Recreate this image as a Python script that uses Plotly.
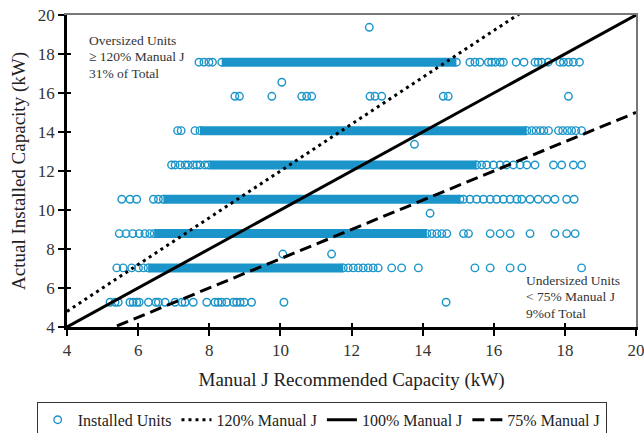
import plotly.graph_objects as go

# ---------------- data ----------------
# discrete installed-capacity levels (kW)
levels = [5.27, 7.03, 8.79, 10.55, 12.31, 14.07, 15.83, 17.58]

# dense (nearly continuous) stretches of points per level: [start, end] in kW (Manual J)
dense_ranges = {
    7.03: [6.28, 11.77],
    8.79: [6.45, 14.12],
    10.55: [6.71, 15.05],
    12.31: [8.00, 15.52],
    14.07: [7.74, 16.93],
    17.58: [8.35, 14.95],
}

# individually visible points per level (x = Manual J kW)
x_527 = [5.21, 5.35, 5.44, 5.77, 5.86, 5.96, 6.03, 6.29, 6.50, 6.57, 6.76, 7.04, 7.23, 7.32,
         7.55, 7.93, 8.16, 8.25, 8.35, 8.49, 8.68, 8.77, 8.87, 8.98, 9.19, 10.10, 14.66]
x_703 = [5.40, 5.58, 5.82, 6.01, 6.15, 6.28, 11.77, 11.91, 12.05, 12.19, 12.33, 12.47, 12.61,
         12.75, 13.13, 13.41, 13.88, 15.47, 15.90, 16.46, 16.79, 18.47]
x_879 = [5.47, 5.66, 5.85, 6.03, 6.19, 6.33, 6.45, 14.12, 14.26, 14.40, 14.54, 14.68, 15.15,
         15.29, 15.90, 16.18, 16.46, 17.02, 17.72, 18.05, 18.29]
x_1055 = [5.54, 5.77, 5.96, 6.43, 6.57, 6.71, 15.05, 15.15, 15.33, 15.52, 15.71, 15.90, 16.08,
          16.27, 16.46, 16.65, 16.79, 17.02, 17.25, 17.49, 17.72, 18.05, 18.26]
x_1231 = [6.94, 7.04, 7.18, 7.32, 7.41, 7.55, 7.65, 7.74, 7.88, 7.97, 15.52, 15.66, 15.80,
          15.99, 16.18, 16.36, 16.55, 16.74, 16.93, 17.16, 17.68, 17.91, 18.24, 18.47]
x_1407 = [7.11, 7.21, 7.60, 7.74, 16.93, 17.07, 17.19, 17.31, 17.41, 17.54, 17.82, 17.94,
          18.07, 18.19, 18.31, 18.47]
x_1583 = [8.72, 8.85, 9.76, 10.60, 10.74, 10.88, 12.52, 12.66, 12.85, 14.58, 14.72, 18.10]
x_1758 = [7.71, 7.85, 7.99, 8.09, 8.35, 14.95, 15.33, 15.47, 15.61, 15.85, 15.94, 16.04,
          16.18, 16.27, 16.63, 16.85, 17.16, 17.25, 17.35, 17.53, 17.86, 17.96, 18.10, 18.24,
          18.41]
sparse_x = {5.27: x_527, 7.03: x_703, 8.79: x_879, 10.55: x_1055,
            12.31: x_1231, 14.07: x_1407, 15.83: x_1583, 17.58: x_1758}

# off-level outliers
out_x = [12.50, 10.04, 13.77, 14.21, 10.07, 11.44]
out_y = [19.37, 16.55, 13.37, 9.83, 7.74, 7.74]

# reference lines
ref_x = [4, 20]
ratios = [1.2, 1.0, 0.75]
ref_names = ["120% Manual J", "100% Manual J", "75% Manual J"]

# text blocks
over_lines = ["Oversized Units", "≥ 120% Manual J", "31% of Total"]
under_lines = ["Undersized Units", "< 75% Manual J", "9%of Total"]

# ---------------- figure ----------------
BLUE = "#1b95c9"
FONT = "Liberation Serif"

fig = go.Figure()

# dense bands
for lvl, (a, b) in dense_ranges.items():
    fig.add_trace(go.Scatter(x=[a, b], y=[lvl, lvl], mode="lines",
                             line=dict(color=BLUE, width=9), showlegend=False,
                             hoverinfo="skip"))

sx, sy = [], []
for lvl in levels:
    for v in sparse_x[lvl]:
        sx.append(v)
        sy.append(lvl)
sx += out_x
sy += out_y

fig.add_trace(go.Scatter(x=sx, y=sy, mode="markers", name="Installed Units",
                         marker=dict(symbol="circle-open", size=7.5, color=BLUE,
                                     line=dict(width=1.4, color=BLUE))))

styles = ["3px,4px", "solid", "12px,6px"]
for r, nm, st in zip(ratios, ref_names, styles):
    fig.add_trace(go.Scatter(x=ref_x, y=[r * v for v in ref_x], mode="lines", name=nm,
                             line=dict(color="black", width=3, dash=st)))

# invisible traces to activate overlay axes
fig.add_trace(go.Scatter(x=[4], y=[4], xaxis="x2", yaxis="y2", mode="markers",
                         marker=dict(opacity=0), showlegend=False, hoverinfo="skip"))
fig.add_trace(go.Scatter(x=[4], y=[4], xaxis="x3", yaxis="y3", mode="markers",
                         marker=dict(opacity=0), showlegend=False, hoverinfo="skip"))

ticks = [4, 6, 8, 10, 12, 14, 16, 18, 20]

fig.update_layout(
    width=644, height=433,
    margin=dict(l=67, r=8, t=15, b=106, autoexpand=False),
    paper_bgcolor="white", plot_bgcolor="white",
    font=dict(family=FONT, color="#222", size=15),
    xaxis=dict(range=[4, 20], tickvals=ticks, showgrid=False, zeroline=False,
               showline=True, linecolor="black", linewidth=2.5, automargin=False,
               ticks="outside", ticklen=6, tickwidth=1.5, tickcolor="black",
               ticklabeloverflow="allow",
               tickfont=dict(size=17, family=FONT, color="#333"),
               title=dict(text="Manual J Recommended Capacity (kW)",
                          font=dict(size=19, family=FONT, color="#222"), standoff=14)),
    yaxis=dict(range=[4, 20], tickvals=ticks, showgrid=False, zeroline=False,
               showline=True, linecolor="black", linewidth=2.5, automargin=False,
               ticks="outside", ticklen=6, tickwidth=1.5, tickcolor="black",
               ticklabeloverflow="allow",
               tickfont=dict(size=17, family=FONT, color="#333"),
               title=dict(text="Actual Installed Capacity (kW)",
                          font=dict(size=19, family=FONT, color="#222"), standoff=8)),
    xaxis2=dict(range=[4, 20], overlaying="x", side="top", showline=True,
                linecolor="#777", linewidth=1.5, showticklabels=False, ticks="",
                showgrid=False, zeroline=False),
    yaxis2=dict(range=[4, 20], overlaying="y", side="right", showline=True,
                linecolor="#777", linewidth=1.5, showticklabels=False, ticks="",
                showgrid=False, zeroline=False, anchor="x2"),
    xaxis3=dict(range=[4, 20], overlaying="x", side="bottom", showline=False,
                tickvals=ticks, ticks="inside", ticklen=4, tickwidth=1.5,
                tickcolor="black", showticklabels=False, showgrid=False, zeroline=False),
    yaxis3=dict(range=[4, 20], overlaying="y", side="left", showline=False,
                tickvals=ticks, ticks="inside", ticklen=4, tickwidth=1.5,
                tickcolor="black", showticklabels=False, showgrid=False, zeroline=False,
                anchor="x3"),
    legend=dict(orientation="h", xref="container", yref="container",
                x=0.057, xanchor="left", y=0.072, yanchor="top",
                bordercolor="#333", borderwidth=1, bgcolor="white",
                font=dict(size=16, family=FONT, color="#222"),
                itemwidth=30, tracegroupgap=0),
    showlegend=True,
)

over_y = [0.9167, 0.8654, 0.8141]
under_y = [0.1484, 0.0971, 0.0439]
for t, yy in zip(over_lines, over_y):
    fig.add_annotation(xref="paper", yref="paper", x=0.035, y=yy, xanchor="left",
                       yanchor="middle", align="left", showarrow=False, text=t,
                       font=dict(size=13.5, family=FONT, color="#333"))
for t, yy in zip(under_lines, under_y):
    fig.add_annotation(xref="paper", yref="paper", x=0.803, y=yy, xanchor="left",
                       yanchor="middle", align="left", showarrow=False, text=t,
                       font=dict(size=13.5, family=FONT, color="#333"))

fig.write_html("out.html")
